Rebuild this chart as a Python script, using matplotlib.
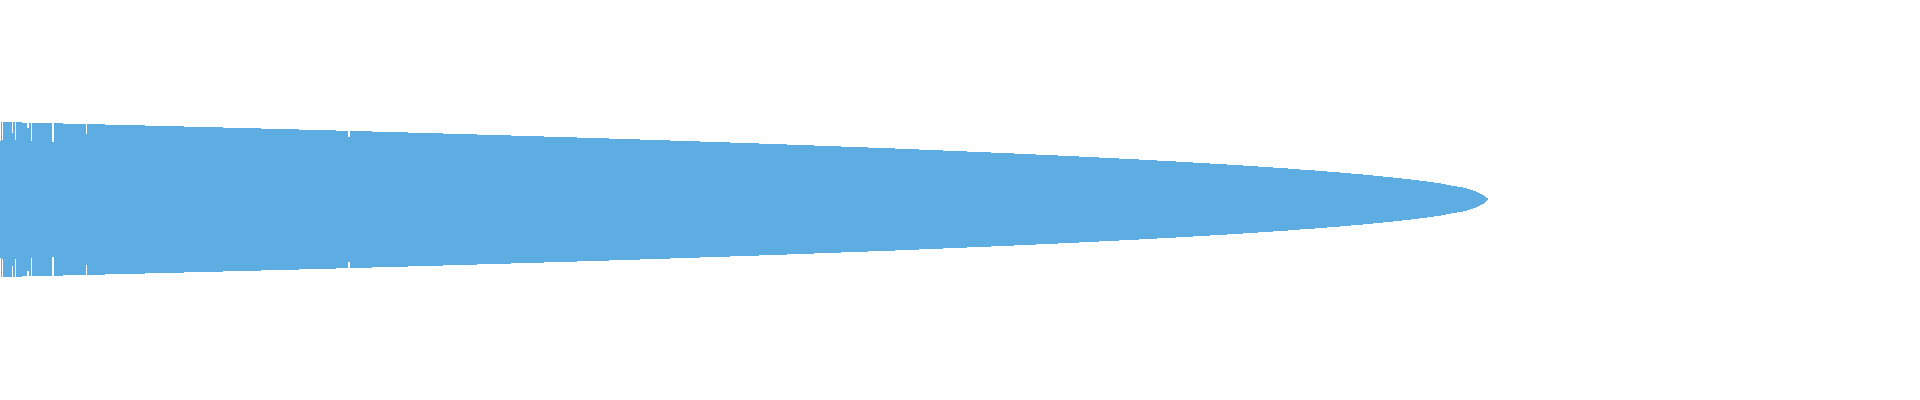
import numpy as np
import matplotlib
matplotlib.use("Agg")
import matplotlib.pyplot as plt

# sorted amplitude envelope (sample index -> level)
positions = [0, 1, 2, 3, 12, 13, 15, 16, 22, 27, 29, 31, 32, 52, 54, 63, 86, 87,
             105, 145, 184, 223, 261, 299, 336, 348, 350, 372, 408, 443, 477,
             511, 544, 577, 609, 640, 670, 700, 730, 759, 787, 814, 841, 868,
             895, 919, 943, 967, 991, 1014, 1036, 1058, 1079, 1099, 1119, 1139,
             1157, 1176, 1193, 1210, 1227, 1243, 1258, 1273, 1288, 1300, 1315,
             1327, 1340, 1351, 1363, 1373, 1383, 1393, 1402, 1411, 1419, 1427,
             1434, 1441, 1446, 1451, 1457, 1463, 1467, 1470, 1473, 1476, 1478,
             1480, 1482, 1484, 1485, 1486, 1487, 1488]
levels = [0.292, 0.387, 0.297, 0.387, 0.333, 0.387, 0.297, 0.387, 0.382, 0.358,
          0.382, 0.292, 0.382, 0.287, 0.382, 0.377, 0.327, 0.377,
          0.372, 0.367, 0.362, 0.357, 0.352, 0.347, 0.342, 0.312, 0.342, 0.337,
          0.332, 0.327, 0.322,
          0.317, 0.312, 0.307, 0.302, 0.297, 0.292, 0.287, 0.282, 0.277, 0.272,
          0.267, 0.262, 0.257,
          0.252, 0.247, 0.242, 0.237, 0.232, 0.227, 0.222, 0.217, 0.212, 0.207,
          0.202, 0.197,
          0.192, 0.187, 0.182, 0.177, 0.172, 0.167, 0.162, 0.157, 0.152, 0.147,
          0.142,
          0.137, 0.132, 0.127, 0.122, 0.117, 0.112, 0.107, 0.102, 0.097, 0.092,
          0.087,
          0.082, 0.077, 0.072, 0.067, 0.062, 0.057, 0.052, 0.047, 0.042, 0.037,
          0.032,
          0.027, 0.022, 0.017, 0.012, 0.007, 0.005, 0.0]

x = np.array(positions)
y = np.array(levels)

fig = plt.figure(figsize=(19.2, 4), dpi=100)
ax = fig.add_axes([0, 0, 1, 1])
ax.fill_between(x, -y, y, step='post', color='#5DADE2', linewidth=0)
ax.set_xlim(0, 1920)
ax.set_ylim(-1.0035, 0.9965)
ax.axis('off')

fig.savefig('out.png', dpi=100, facecolor='white')
